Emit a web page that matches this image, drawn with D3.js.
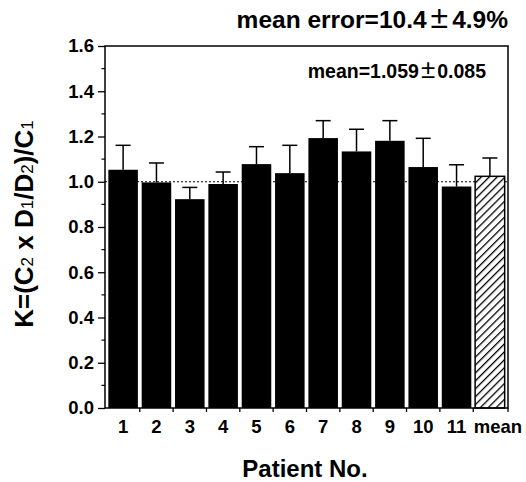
<!DOCTYPE html>
<html lang="en">
<head>
    <meta charset="UTF-8">
    <title>K ratio per patient</title>
    <script src="https://d3js.org/d3.v7.min.js"></script>
    <style>
        body {
            margin: 0;
            background: #fff;
            font-family: "Liberation Sans", Arial, sans-serif;
        }
        .axis path, .axis line {
            stroke: #000;
        }
    </style>
</head>
<body>
    <svg id="chart" width="526" height="482"></svg>

    <script>
        // data
        const patients = ["1", "2", "3", "4", "5", "6", "7", "8", "9", "10", "11", "mean"];
        const kValues = [1.053, 0.997, 0.923, 0.990, 1.078, 1.038, 1.193, 1.134, 1.181, 1.065, 0.979, 1.024];
        const kErrors = [0.108, 0.086, 0.052, 0.053, 0.077, 0.123, 0.077, 0.098, 0.089, 0.127, 0.096, 0.081];
        const yTicks = [0.0, 0.2, 0.4, 0.6, 0.8, 1.0, 1.2, 1.4, 1.6];

        const svg = d3.select("#chart");
        const plotL = 105, plotR = 508, plotT = 46, plotB = 408;
        const font = "'Liberation Sans', Arial, sans-serif";

        const x = d3.scaleBand()
            .domain(patients)
            .range([plotL, plotR])
            .paddingInner(0.114)
            .paddingOuter(0.1);

        const y = d3.scaleLinear()
            .domain([0, 1.6])
            .range([plotB, plotT]);

        // hatch pattern for the mean bar
        const pat = svg.append("defs").append("pattern")
            .attr("id", "hatch")
            .attr("patternUnits", "userSpaceOnUse")
            .attr("width", 5.6)
            .attr("height", 5.6)
            .attr("patternTransform", "rotate(45)");
        pat.append("rect").attr("width", 5.6).attr("height", 5.6).attr("fill", "#fff");
        pat.append("line")
            .attr("x1", 0).attr("y1", 0).attr("x2", 0).attr("y2", 5.6)
            .attr("stroke", "#000").attr("stroke-width", 2.6);

        // reference line at 1.0
        svg.append("line")
            .attr("x1", plotL).attr("x2", plotR)
            .attr("y1", y(1)).attr("y2", y(1))
            .attr("stroke", "#000")
            .attr("stroke-width", 1.2)
            .attr("stroke-dasharray", "2,2");

        const data = patients.map((p, i) => ({ p: p, v: kValues[i], e: kErrors[i] }));

        // error whiskers (upper only)
        const err = svg.append("g").attr("stroke", "#000").attr("stroke-width", 1.5);
        data.forEach(d => {
            const cx = x(d.p) + x.bandwidth() / 2;
            err.append("line")
                .attr("x1", cx).attr("x2", cx)
                .attr("y1", y(d.v)).attr("y2", y(d.v + d.e));
            err.append("line")
                .attr("x1", cx - 7.5).attr("x2", cx + 7.5)
                .attr("y1", y(d.v + d.e)).attr("y2", y(d.v + d.e));
        });

        svg.selectAll(".bar")
            .data(data)
            .enter().append("rect")
            .attr("class", "bar")
            .attr("x", d => x(d.p))
            .attr("y", d => y(d.v))
            .attr("width", x.bandwidth())
            .attr("height", d => y(0) - y(d.v))
            .attr("fill", d => d.p === "mean" ? "url(#hatch)" : "#000")
            .attr("stroke", "#000")
            .attr("stroke-width", d => d.p === "mean" ? 1.5 : 0);

        // frame
        svg.append("rect")
            .attr("x", plotL).attr("y", plotT)
            .attr("width", plotR - plotL).attr("height", plotB - plotT)
            .attr("fill", "none")
            .attr("stroke", "#000")
            .attr("stroke-width", 1.5);

        // y axis
        const yAxis = svg.append("g")
            .attr("class", "axis")
            .attr("transform", `translate(${plotL},0)`)
            .call(d3.axisLeft(y).tickValues(yTicks).tickFormat(d3.format(".1f")).tickSize(7).tickPadding(4));
        yAxis.attr("font-size", 18.5).attr("font-weight", "bold").attr("font-family", font);
        yAxis.select(".domain").remove();
        yAxis.selectAll("line").attr("stroke-width", 1.3);

        const minor = d3.range(1, 16, 2).map(i => i / 10);
        svg.append("g")
            .selectAll("line")
            .data(minor)
            .enter().append("line")
            .attr("x1", plotL - 3.5).attr("x2", plotL)
            .attr("y1", d => y(d)).attr("y2", d => y(d))
            .attr("stroke", "#000")
            .attr("stroke-width", 1.2);

        // x axis labels
        const xAxis = svg.append("g")
            .attr("class", "axis")
            .attr("transform", `translate(0,${plotB})`)
            .call(d3.axisBottom(x).tickSize(0).tickPadding(12));
        xAxis.attr("font-size", 18.5).attr("font-weight", "bold").attr("font-family", font);
        xAxis.select(".domain").remove();
        xAxis.selectAll(".tick text").filter(d => d === "mean").attr("dx", 8);

        // x ticks at band boundaries
        const edges = patients.slice(1).map(p => x(p) - x.step() * x.paddingInner() / 2);
        edges.push(plotR);
        svg.append("g")
            .selectAll("line")
            .data(edges)
            .enter().append("line")
            .attr("x1", d => d).attr("x2", d => d)
            .attr("y1", plotB).attr("y2", plotB + 4)
            .attr("stroke", "#000")
            .attr("stroke-width", 1.3);

        // text with a wide, light plus-minus sign
        function pmText(xx, yy, size, pmSize, gap, a, b) {
            const t = svg.append("text")
                .attr("x", xx).attr("y", yy)
                .attr("text-anchor", "end")
                .attr("font-family", font)
                .attr("font-weight", "bold")
                .attr("font-size", size);
            t.append("tspan").text(a);
            t.append("tspan").attr("dx", gap).attr("font-size", pmSize).attr("font-weight", "normal").text("\u00B1");
            t.append("tspan").attr("dx", gap).text(b);
        }
        pmText(508, 28, 24.5, 32, 4, "mean error=10.4", "4.9%");
        pmText(486, 78, 19.5, 26, 2, "mean=1.059", "0.085");

        svg.append("text")
            .attr("x", 305).attr("y", 477)
            .attr("text-anchor", "middle")
            .attr("font-family", font)
            .attr("font-weight", "bold")
            .attr("font-size", 24)
            .text("Patient No.");

        const yl = svg.append("text")
            .attr("transform", "translate(33,224) rotate(-90)")
            .attr("text-anchor", "middle")
            .attr("font-family", font)
            .attr("font-weight", "bold")
            .attr("font-size", 26);
        const parts = [["K=(C", 0], ["2", 1], [" x D", 0], ["1", 1], ["/D", 0], ["2", 1], [")/C", 0], ["1", 1]];
        parts.forEach(([t, sub]) => {
            yl.append("tspan")
                .attr("font-size", sub ? 17 : 26)
                .attr("font-weight", sub ? "normal" : "bold")
                .text(t);
        });
    </script>
</body>
</html>
